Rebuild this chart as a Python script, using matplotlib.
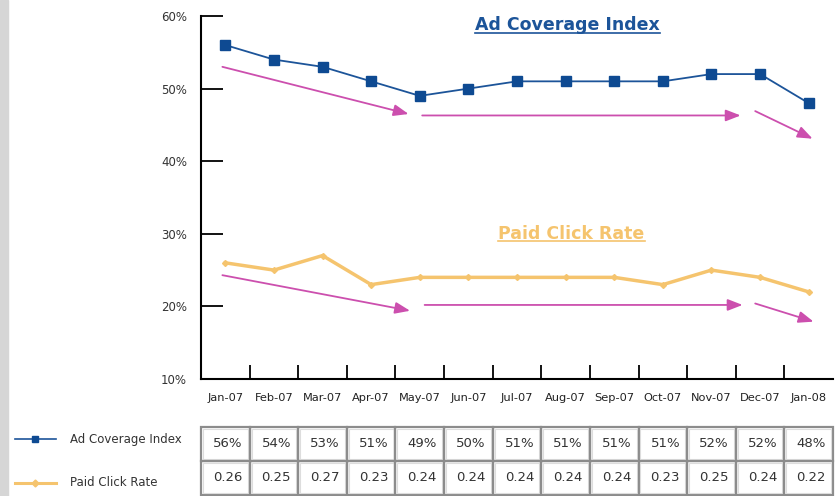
import matplotlib
matplotlib.use("Agg")
import matplotlib.pyplot as plt
from matplotlib.patches import Rectangle

# data
months = ["Jan-07", "Feb-07", "Mar-07", "Apr-07", "May-07", "Jun-07", "Jul-07",
          "Aug-07", "Sep-07", "Oct-07", "Nov-07", "Dec-07", "Jan-08"]
ad_coverage = [56, 54, 53, 51, 49, 50, 51, 51, 51, 51, 52, 52, 48]
paid_click = [0.26, 0.25, 0.27, 0.23, 0.24, 0.24, 0.24, 0.24, 0.24, 0.23, 0.25, 0.24, 0.22]
yticks = [10, 20, 30, 40, 50, 60]

# trend arrows (x in category index, y in %)
top_arrows = [((-0.06, 53.0), (3.77, 46.5)), ((4.05, 46.3), (10.6, 46.3)), ((10.9, 46.9), (12.08, 43.1))]
bottom_arrows = [((-0.06, 24.3), (3.8, 19.4)), ((4.1, 20.2), (10.64, 20.2)), ((10.9, 20.4), (12.1, 17.9))]

blue = "#1c5499"
blue_dark = "#0e4a92"
orange = "#f5c46e"
pink = "#cc4fae"
txt = "#333333"

fig = plt.figure(figsize=(8.35, 4.96), dpi=100)
fig.patches.append(Rectangle((0, 0), 8 / 835, 1, transform=fig.transFigure, color="#d6d6d6", zorder=0))

ax = fig.add_axes([201 / 835, 1 - 379 / 496, 632 / 835, 363 / 496])
x = list(range(len(months)))
ax.plot(x, ad_coverage, color=blue, lw=1.3, marker="s", ms=6.5, mfc=blue_dark, mec=blue_dark, zorder=3)
ax.plot(x, [v * 100 for v in paid_click], color=orange, lw=2.5, marker="D", ms=3, mfc=orange, mec=orange, zorder=3)

for arrows in (top_arrows, bottom_arrows):
    for (x0, y0), (x1, y1) in arrows:
        ax.annotate("", xy=(x1, y1), xytext=(x0, y0),
                    arrowprops=dict(arrowstyle="-|>,head_length=0.9,head_width=0.35", color=pink, lw=1.3,
                                    shrinkA=0, shrinkB=0))

titles = [
    ax.text(7.04, 58.7, "Ad Coverage Index", color=blue, fontsize=12.5, fontweight="bold", ha="center", va="center"),
    ax.text(7.12, 30.0, "Paid Click Rate", color=orange, fontsize=12.5, fontweight="bold", ha="center", va="center"),
]

ax.set_xlim(-0.5, 12.5)
ax.set_ylim(10, 60)
ax.set_yticks(yticks)
ax.set_yticklabels([f"{v}%" for v in yticks], fontsize=8.5, color=txt)
ax.set_xticks([i + 0.5 for i in range(-1, 12)])
ax.set_xticklabels([])
ax.set_xticks(x, minor=True)
ax.set_xticklabels(months, minor=True, fontsize=8.2, color="#222222")
ax.tick_params(axis="x", which="minor", length=0, pad=10)
ax.tick_params(axis="x", which="major", direction="in", length=10, width=1.3)
ax.tick_params(axis="y", direction="in", length=16, width=1.3, pad=10)
for s in ("top", "right"):
    ax.spines[s].set_visible(False)
for s in ("left", "bottom"):
    ax.spines[s].set_linewidth(1.5)

# underline the titles
fig.canvas.draw()
r = fig.canvas.get_renderer()
for t in titles:
    bb = t.get_window_extent(r).transformed(fig.transFigure.inverted())
    fig.add_artist(plt.Line2D([bb.x0, bb.x1], [bb.y0 + 1.5 / 496] * 2, color=t.get_color(), lw=1.2))

# data table under the chart
tab = fig.add_axes([201 / 835, 0, 632 / 835, 69 / 496])
tab.set_xlim(-0.5, 12.5)
tab.set_ylim(-0.03, 2)
tab.axis("off")
rows = [[f"{v}%" for v in ad_coverage], [f"{v:.2f}" for v in paid_click]]
for r_i, vals in enumerate(rows):
    yc = 1.5 - r_i
    for i, v in enumerate(vals):
        tab.add_patch(Rectangle((i - 0.5, yc - 0.5), 1, 1, fill=False, ec="#8c8c8c", lw=1.6, clip_on=False))
        tab.add_patch(Rectangle((i - 0.46, yc - 0.45), 0.92, 0.9, fill=False, ec="#dddddd", lw=0.8, clip_on=False))
        tab.text(i + 0.05, yc, v, ha="center", va="center", fontsize=9.5, color=txt)

# legend keys beside the table
fig.add_artist(plt.Line2D([15 / 835, 56 / 835], [1 - 439 / 496] * 2, color=blue, lw=1.2))
fig.add_artist(plt.Line2D([35 / 835], [1 - 439 / 496], color=blue_dark, marker="s", ms=4, lw=0))
fig.text(70 / 835, 1 - 439 / 496, "Ad Coverage Index", fontsize=8.5, color=txt, va="center")
fig.add_artist(plt.Line2D([15 / 835, 56 / 835], [1 - 483 / 496] * 2, color=orange, lw=2.2))
fig.add_artist(plt.Line2D([35 / 835], [1 - 483 / 496], color=orange, marker="D", ms=3.5, lw=0))
fig.text(70 / 835, 1 - 483 / 496, "Paid Click Rate", fontsize=8.5, color=txt, va="center")

fig.savefig("out.png", dpi=100)
